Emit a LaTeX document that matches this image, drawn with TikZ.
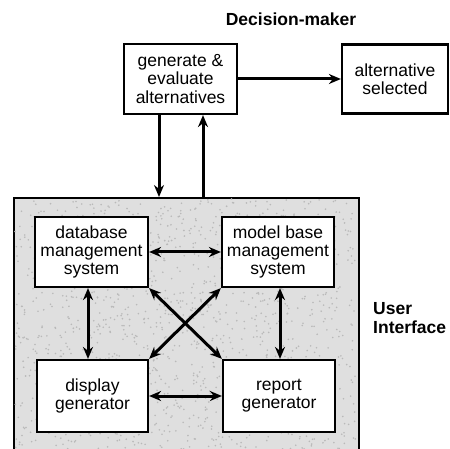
\documentclass[tikz,border=0pt]{standalone}
\usepackage{fontspec}
\setmainfont{Liberation Sans}
\usetikzlibrary{arrows.meta}
\begin{document}
\begin{tikzpicture}[x=1pt,y=-1pt,
  box/.style={draw=black,line width=2.2pt,fill=white,align=center,inner sep=0pt,
    font=\fontsize{17.5}{18.3}\selectfont},
  conn/.style={line width=3pt,-{Stealth[length=12pt,width=10pt]}},
  biconn/.style={line width=3pt,{Stealth[length=12pt,width=10pt]}-{Stealth[length=12pt,width=10pt]}},
  lab/.style={font=\fontsize{17.5}{19}\selectfont\bfseries,align=left,inner sep=0pt}]
\clip (0,0) rectangle (450,449);
\fill[white] (0,0) rectangle (450,449);
% user interface shaded region
\node[draw=black,line width=2.2pt,fill=gray!25,minimum width=345pt,minimum height=262pt,inner sep=0pt,anchor=north west] (ui) at (13,197) {};
\pgfmathsetseed{7}
\foreach \i in {1,...,1400}{
  \pgfmathsetmacro{\px}{15+341*rnd}
  \pgfmathsetmacro{\py}{199+250*rnd}
  \fill[gray!55] (\px,\py) circle (0.9pt);
}
% top
\node[lab] (dm) at (291,19) {Decision-maker};
\node[box,minimum width=113pt,minimum height=70pt] (gen) at (180.5,79) {generate \&\\evaluate\\alternatives};
\node[box,minimum width=106pt,minimum height=69pt] (alt) at (395,79) {alternative\\selected};
% inner boxes
\node[box,minimum width=113pt,minimum height=70pt] (db) at (91.5,252) {database\\management\\system};
\node[box,minimum width=112pt,minimum height=70pt] (mb) at (278,252) {model base\\management\\system};
\node[box,minimum width=111pt,minimum height=72pt] (dg) at (92.5,396) {display\\generator};
\node[box,minimum width=112pt,minimum height=72pt] (rg) at (279,396) {report\\generator};
\node[lab,anchor=west] (uil) at (373,318) {User\\Interface};
% connectors
\draw[conn] (gen.east) -- (alt.west);
\coordinate (d1) at (159,197);
\coordinate (u1) at (203,197);
\draw[conn] (gen.south -| d1) -- (d1);
\draw[conn] (u1) -- (gen.south -| u1);
\draw[biconn] (db.east) -- (mb.west);
\draw[biconn] (dg.east) -- (rg.west);
\draw[biconn] (db.south -| 88,0) -- (dg.north -| 88,0);
\draw[biconn] (mb.south -| 280,0) -- (rg.north -| 280,0);
\draw[biconn] (db.south east) -- (rg.north west);
\draw[biconn] (mb.south west) -- (dg.north east);
\end{tikzpicture}
\end{document}
